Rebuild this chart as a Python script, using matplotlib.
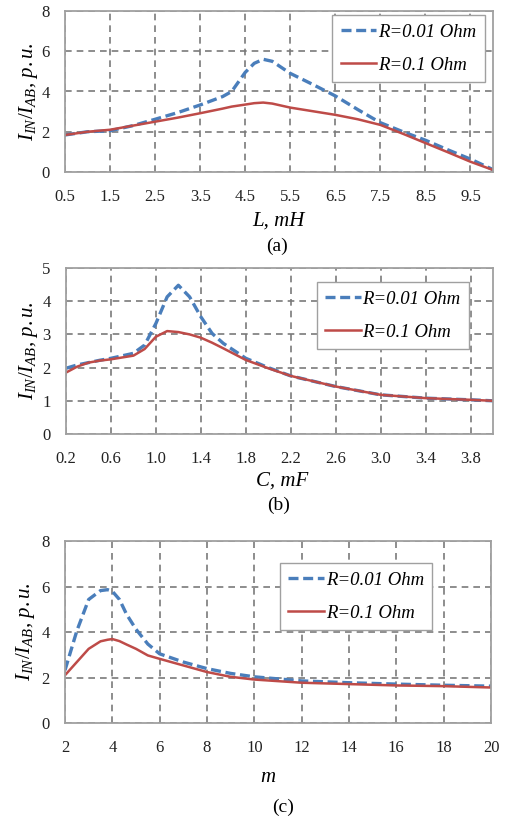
import numpy as np
import matplotlib
matplotlib.use("Agg")
import matplotlib.pyplot as plt

plt.rcParams['font.family'] = ['Liberation Serif', 'DejaVu Serif']
plt.rcParams['mathtext.fontset'] = 'custom'
plt.rcParams['mathtext.it'] = 'Liberation Serif:italic'
plt.rcParams['mathtext.rm'] = 'Liberation Serif'

# panel (a): current ratio vs inductance
L_mH = [0.5, 1.0, 1.5, 2.0, 2.5, 3.0, 3.5, 4.0, 4.2, 4.5, 4.7, 4.9, 5.1, 5.5, 6.0, 6.5, 7.0, 7.5, 8.0, 8.5, 9.0, 9.5, 10.0]
a_r001 = [1.84, 2.0, 2.05, 2.3, 2.62, 2.95, 3.33, 3.75, 4.0, 4.95, 5.4, 5.6, 5.5, 4.9, 4.35, 3.78, 3.1, 2.45, 2.0, 1.58, 1.1, 0.64, 0.12]
a_r01 = [1.84, 2.0, 2.1, 2.3, 2.5, 2.7, 2.92, 3.15, 3.25, 3.35, 3.42, 3.45, 3.4, 3.2, 3.02, 2.84, 2.62, 2.34, 1.9, 1.44, 0.98, 0.51, 0.1]

# panel (b): current ratio vs capacitance
C_mF = [0.2, 0.3, 0.4, 0.5, 0.6, 0.8, 0.9, 1.0, 1.1, 1.2, 1.3, 1.4, 1.5, 1.6, 1.8, 2.0, 2.2, 2.6, 3.0, 3.4, 3.8, 4.0]
b_r001 = [1.98, 2.08, 2.15, 2.22, 2.28, 2.43, 2.68, 3.33, 4.13, 4.48, 4.13, 3.53, 3.03, 2.73, 2.28, 2.0, 1.75, 1.43, 1.18, 1.08, 1.03, 1.0]
b_r01 = [1.85, 2.03, 2.15, 2.21, 2.25, 2.36, 2.56, 2.93, 3.1, 3.07, 3.0, 2.9, 2.75, 2.58, 2.23, 1.98, 1.75, 1.43, 1.18, 1.08, 1.03, 1.0]

# panel (c): current ratio vs m
m_vals = [2.0, 2.5, 3.0, 3.5, 3.8, 4.0, 4.3, 4.6, 5.0, 5.5, 6.0, 7.0, 8.0, 9.0, 10.0, 12.0, 14.0, 16.0, 18.0, 20.0]
c_r001 = [2.32, 4.05, 5.43, 5.82, 5.86, 5.79, 5.43, 4.78, 4.12, 3.47, 3.04, 2.68, 2.39, 2.18, 2.03, 1.85, 1.77, 1.71, 1.66, 1.62]
c_r01 = [2.1, 2.68, 3.26, 3.59, 3.66, 3.69, 3.6, 3.45, 3.26, 2.97, 2.82, 2.53, 2.24, 2.03, 1.91, 1.77, 1.71, 1.65, 1.62, 1.56]

W, H = 511, 821
fig = plt.figure(figsize=(W / 100, H / 100), dpi=100)

blue = '#4a7ebb'
red = '#be4b48'
ylab = r'$I_{IN}/I_{AB}$, $p.u.$'


def make_axes(px_left, px_right, px_top, px_bottom):
    return fig.add_axes([px_left / W, 1 - px_bottom / H, (px_right - px_left) / W, (px_bottom - px_top) / H])


def style(ax, xs, y1, y2, xlim, xticks, xfmt, ylim, yticks, leg_anchor):
    ax.plot(xs, y1, '--', color=blue, lw=2.4, dashes=(3.0, 1.4), label='R=0.01 Ohm')
    ax.plot(xs, y2, '-', color=red, lw=1.8, label='R=0.1 Ohm')
    ax.set_xlim(xlim)
    ax.set_ylim(ylim)
    ax.set_xticks(xticks)
    ax.set_xticklabels([xfmt.format(t) for t in xticks])
    ax.set_yticks(yticks)
    ax.grid(True, color='#7a7a7a', ls=(0, (4, 3)), lw=1.2)
    ax.set_axisbelow(True)
    for s in ax.spines.values():
        s.set_color('#a0a0a0')
        s.set_linewidth(1.3)
    ax.tick_params(length=0, labelsize=12, colors='#222222')
    ax.tick_params(axis='x', pad=12.5)
    ax.tick_params(axis='y', pad=11)
    ax.set_ylabel(ylab, fontsize=15, style='italic')
    leg = ax.legend(loc='upper right', bbox_to_anchor=leg_anchor, borderaxespad=0,
                    fancybox=False, framealpha=1, edgecolor='#a0a0a0',
                    prop={'family': 'Liberation Serif', 'style': 'italic', 'size': 13.5},
                    handlelength=1.9, handletextpad=0.1, labelspacing=0.85,
                    borderpad=0.45)
    leg.get_frame().set_linewidth(1.0)


ax1 = make_axes(65, 493, 11, 172)
style(ax1, L_mH, a_r001, a_r01, (0.5, 10.0), np.arange(0.5, 10.0, 1.0), '{:.1f}',
      (0, 8), [0, 2, 4, 6, 8], (0.981, 0.975))
ax1.yaxis.set_label_coords(-0.058, 0.5)

ax2 = make_axes(66, 493, 268, 434)
style(ax2, C_mF, b_r001, b_r01, (0.2, 4.0), np.arange(0.2, 4.0, 0.4), '{:.1f}',
      (0, 5), [0, 1, 2, 3, 4, 5], (0.944, 0.916))
ax2.yaxis.set_label_coords(-0.061, 0.5)

ax3 = make_axes(65, 491, 541, 723)
style(ax3, m_vals, c_r001, c_r01, (2, 20), np.arange(2, 21, 2), '{:.0f}',
      (0, 8), [0, 2, 4, 6, 8], (0.862, 0.879))
ax3.yaxis.set_label_coords(-0.066, 0.5)

# axis titles and panel captions
fig.text(278 / W, 1 - 221 / H, 'L, mH', ha='center', va='center', fontsize=15, style='italic')
fig.text(277 / W, 1 - 246 / H, '(a)', ha='center', va='center', fontsize=14)
fig.text(282 / W, 1 - 481 / H, 'C, mF', ha='center', va='center', fontsize=15, style='italic')
fig.text(279 / W, 1 - 505 / H, '(b)', ha='center', va='center', fontsize=14)
fig.text(268 / W, 1 - 777 / H, 'm', ha='center', va='center', fontsize=15, style='italic')
fig.text(283 / W, 1 - 807 / H, '(c)', ha='center', va='center', fontsize=14)

fig.savefig('out.png', dpi=100)
